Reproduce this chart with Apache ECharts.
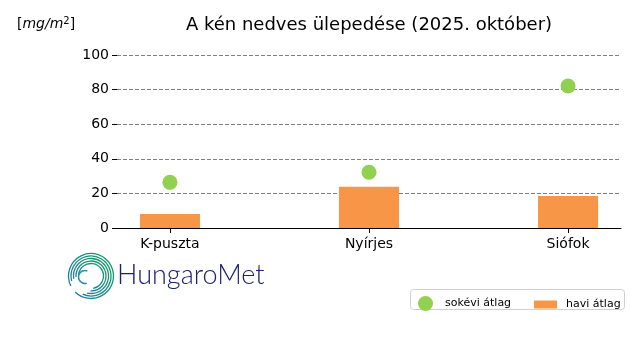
<!DOCTYPE html>
<html>
<head>
<meta charset="utf-8">
<script src="https://cdn.jsdelivr.net/npm/echarts@6/dist/echarts.min.js"></script>
<style>html,body{margin:0;padding:0;background:#fff}#c{width:640px;height:360px}</style>
</head>
<body>
<div id="c"></div>
<script>
const categories = ['K-puszta', 'Nyírjes', 'Siófok'];
const haviAtlag = [8.1, 23.9, 18.5];
const sokeviAtlag = [26.4, 32.2, 82.1];
const yTicks = [0, 20, 40, 60, 80, 100];

const chart = echarts.init(document.getElementById('c'), null, {renderer: 'canvas'});
const F = 'DejaVu Sans';

const barData = haviAtlag.map((v, i) => [i, v]);
const dotData = sokeviAtlag.map((v, i) => [i, v]);
const idx = categories.map((c, i) => i);

// logo arcs
const grad = new echarts.graphic.LinearGradient(1, 0, 0, 1, [
  {offset: 0, color: '#10a060'},
  {offset: 0.45, color: '#179080'},
  {offset: 1, color: '#2a6fb8'}
]);
const logo = [];
const cx = 91, cy = 276;
const arcs = [
  [22.5, -3.6, 2.35],
  [20, -3.4, 2.0],
  [17.5, -3.3, 1.8],
  [15, -3.2, 1.6],
  [12.5, -3.0, 1.4]
];
arcs.forEach(a => {
  logo.push({type: 'arc', shape: {cx: cx, cy: cy, r: a[0], startAngle: a[1], endAngle: a[2], clockwise: true},
    style: {stroke: grad, lineWidth: 1.3, fill: null}, silent: true});
});
logo.push({type: 'arc', shape: {cx: cx - 6, cy: cy + 1, r: 6.5, startAngle: -1.2, endAngle: 1.3, clockwise: false},
  style: {stroke: '#2a8aa8', lineWidth: 1.5, fill: null}, silent: true});
logo.push({type: 'text', left: 117, top: 262, silent: true,
  style: {text: 'HungaroMet', font: '300 27px Lato', fill: '#1c2176'}});
// legend frame
logo.push({type: 'rect', shape: {x: 410.5, y: 289.5, width: 214, height: 20, r: 3},
  style: {fill: '#fff', stroke: '#d0d0d0', lineWidth: 1}, z: 0, silent: true});

chart.setOption({
  animation: false,
  backgroundColor: '#fff',
  title: {
    text: 'A kén nedves ülepedése (2025. október)',
    left: 364, top: 11, textAlign: 'center',
    textStyle: {fontFamily: F, fontSize: 18, fontWeight: 'normal', color: '#000'}
  },
  graphic: [
    {type: 'text', left: 17, top: 16, silent: true,
      style: {text: '{n|[}{i|mg/m}{s|2}{n|]}', rich: {
        n: {fontFamily: F, fontSize: 14, color: '#000'},
        i: {fontFamily: F, fontSize: 14, fontStyle: 'italic', color: '#000'},
        s: {fontFamily: F, fontSize: 10, color: '#000', verticalAlign: 'top', padding: [0, 0, 6, 0]}
      }}}
  ].concat(logo),
  legend: [
    {data: [{name: 'sokévi átlag', icon: 'circle'}], left: 413, top: 291, itemWidth: 15, itemHeight: 15, itemGap: 8,
      textStyle: {fontFamily: F, fontSize: 11, color: '#000', padding: [0, 0, 0, 7]}, z: 5},
    {data: [{name: 'havi átlag', icon: 'rect'}], left: 529, top: 294, itemWidth: 23, itemHeight: 8, itemGap: 8,
      textStyle: {fontFamily: F, fontSize: 11, color: '#000', padding: [0, 0, 0, 4]}, z: 5}
  ],
  grid: {left: 117, right: 19, top: 55, bottom: 132, containLabel: false},
  xAxis: {
    type: 'value', min: -0.266, max: 2.266,
    splitLine: {show: false},
    axisLine: {show: true, onZero: false, lineStyle: {color: '#000', width: 1}},
    axisTick: {show: true, customValues: idx, length: 5, lineStyle: {color: '#000'}},
    axisLabel: {show: true, customValues: idx, margin: 9, formatter: v => categories[Math.round(v)],
      fontFamily: F, fontSize: 14, color: '#000'}
  },
  yAxis: {
    type: 'value', min: 0, max: 100, interval: 20,
    axisLine: {show: false, onZero: false},
    axisTick: {show: true, length: 5, lineStyle: {color: '#000'}},
    axisLabel: {fontFamily: F, fontSize: 14, color: '#000', margin: 8},
    splitLine: {show: true, lineStyle: {color: '#808080', type: [4, 2], width: 1}}
  },
  series: [
    {name: 'havi átlag', type: 'bar', data: barData, barWidth: 60,
      itemStyle: {color: '#F79646'}, z: 2},
    {name: 'sokévi átlag', type: 'scatter', data: dotData, symbol: 'circle', symbolSize: 15,
      itemStyle: {color: '#92D050', opacity: 1}, z: 3}
  ]
});
</script>
</body>
</html>
